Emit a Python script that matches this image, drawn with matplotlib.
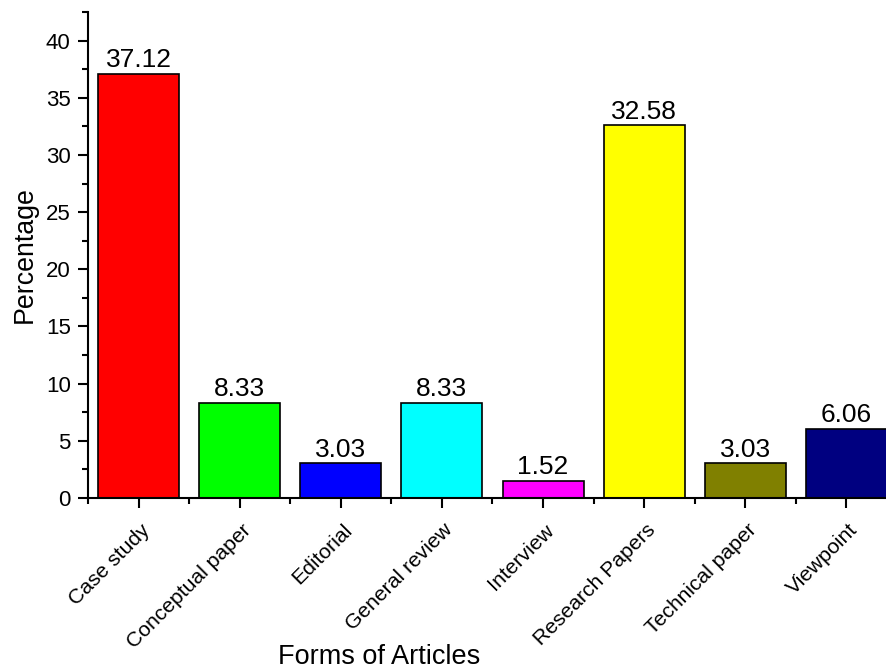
import matplotlib.pyplot as plt
from matplotlib.ticker import MultipleLocator

# data
categories = ['Case study', 'Conceptual paper', 'Editorial', 'General review',
              'Interview', 'Research Papers', 'Technical paper', 'Viewpoint']
percentages = [37.12, 8.33, 3.03, 8.33, 1.52, 32.58, 3.03, 6.06]
bar_colors = ['#FF0000', '#00FF00', '#0000FF', '#00FFFF',
              '#FF00FF', '#FFFF00', '#808000', '#000080']

plt.rcParams['font.family'] = ['Liberation Sans', 'DejaVu Sans']

fig = plt.figure(figsize=(8.86, 6.7), dpi=100)
# axes runs past the right edge like in the original
ax = fig.add_axes([88 / 886, 1 - 498 / 670, (897 - 88) / 886, (498 - 12) / 670])

x = list(range(len(categories)))
bars = ax.bar(x, percentages, width=0.8, color=bar_colors, edgecolor='black', linewidth=1.2)

for b, v in zip(bars, percentages):
    ax.annotate(f'{v:.2f}', (b.get_x() + b.get_width() / 2, v), xytext=(0, 1),
                textcoords='offset points', ha='center', va='bottom', fontsize=19)

ax.set_xlim(-0.5, 7.5)
ax.set_ylim(0, 42.5)
ax.yaxis.set_major_locator(MultipleLocator(5))
ax.yaxis.set_minor_locator(MultipleLocator(2.5))
ax.set_xticks(x)
ax.set_xticks([i - 0.5 for i in range(len(categories) + 1)], minor=True)
ax.set_xticklabels([])

# rotated category labels placed by hand under each tick
for i, name in zip(x, categories):
    ax.annotate(name, (i, 0), xytext=(5.8, -21), textcoords='offset points',
                ha='right', va='center', rotation=45, rotation_mode='anchor',
                fontsize=15.2, annotation_clip=False)

ax.tick_params(axis='both', which='major', direction='out', length=7.5, width=1.5)
ax.tick_params(axis='y', which='major', labelsize=16, pad=5)
ax.tick_params(axis='both', which='minor', direction='out', length=4.5, width=1.5)

for side in ['top', 'right']:
    ax.spines[side].set_visible(False)
for side in ['left', 'bottom']:
    ax.spines[side].set_linewidth(1.5)

ax.set_ylabel('Percentage', fontsize=19.3)
ax.yaxis.set_label_coords(-0.062, 0.5)
fig.text(379 / 886, 1 - 664 / 670, 'Forms of Articles', ha='center', va='baseline', fontsize=19.5)

fig.savefig('out.png', dpi=100)
